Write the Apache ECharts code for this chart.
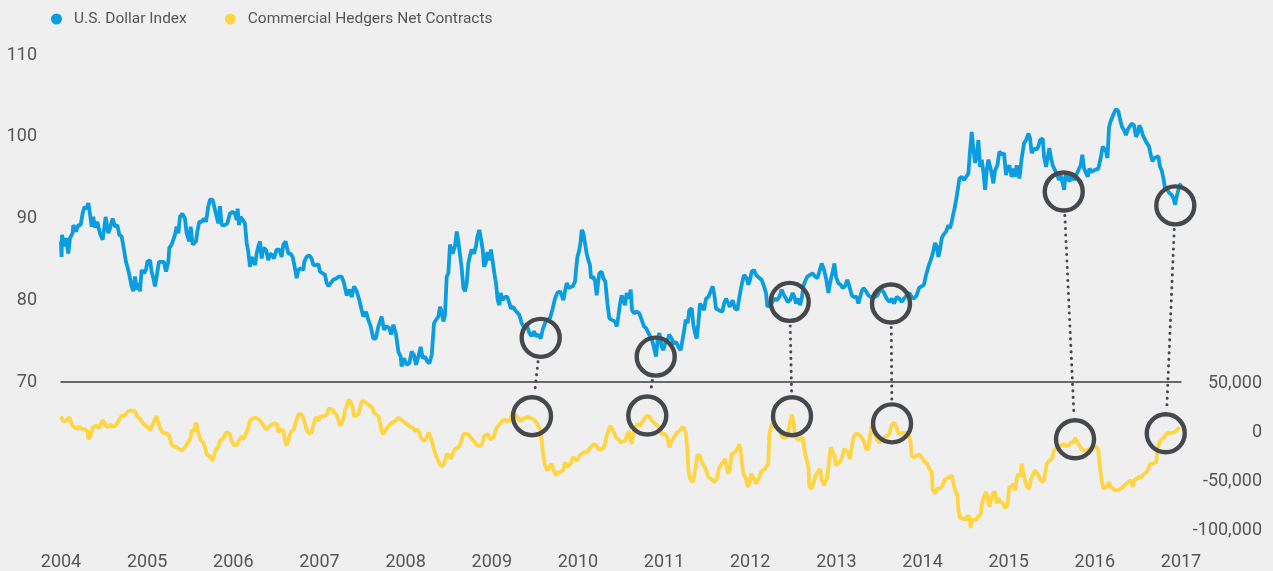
<!DOCTYPE html>
<html>
<head>
<meta charset="utf-8">
<title>U.S. Dollar Index vs Commercial Hedgers</title>
<script src="https://cdn.jsdelivr.net/npm/echarts@6/dist/echarts.min.js"></script>
<style>
  html, body { margin: 0; padding: 0; background: #efefef; }
  #chart { width: 1273px; height: 571px; }
</style>
</head>
<body>
<div id="chart"></div>
<script>
// data: [fractional year, value]
const dollarIndex = [
  [2004.000,87.2],[2004.006,85.3],[2004.012,88.0],[2004.035,86.6],[2004.058,87.6],[2004.085,85.7],[2004.104,87.6],[2004.135,88.2],
  [2004.143,89.2],[2004.174,88.4],[2004.201,89.2],[2004.228,89.2],[2004.251,90.6],[2004.271,91.4],[2004.298,91.2],[2004.317,91.9],
  [2004.336,90.6],[2004.356,89.0],[2004.375,90.2],[2004.394,88.9],[2004.421,89.6],[2004.452,88.2],[2004.483,87.4],[2004.499,88.6],
  [2004.518,90.2],[2004.549,88.2],[2004.569,88.8],[2004.599,90.0],[2004.627,89.0],[2004.654,89.2],[2004.677,88.0],[2004.704,87.8],
  [2004.731,86.2],[2004.754,84.7],[2004.781,83.7],[2004.801,83.5],[2004.820,81.7],[2004.839,81.1],[2004.859,82.9],[2004.878,81.3],
  [2004.897,82.1],[2004.917,81.1],[2004.936,83.7],[2004.963,83.3],[2004.986,83.7],[2005.002,84.7],[2005.033,84.9],[2005.052,83.5],
  [2005.072,82.7],[2005.091,81.7],[2005.110,82.9],[2005.137,84.7],[2005.168,84.7],[2005.195,84.7],[2005.219,83.5],[2005.246,84.7],
  [2005.257,86.4],[2005.284,86.8],[2005.304,86.8],[2005.323,88.0],[2005.342,89.0],[2005.362,88.2],[2005.381,90.2],[2005.408,90.6],
  [2005.439,90.0],[2005.458,88.2],[2005.489,87.2],[2005.505,89.0],[2005.528,86.8],[2005.544,86.6],[2005.567,87.2],[2005.582,88.4],
  [2005.605,89.6],[2005.632,89.6],[2005.659,90.0],[2005.683,89.6],[2005.710,91.5],[2005.729,92.3],[2005.760,92.3],[2005.776,92.1],
  [2005.807,90.2],[2005.826,89.4],[2005.845,91.5],[2005.865,89.2],[2005.903,89.2],[2005.930,89.4],[2005.961,90.6],[2005.992,90.8],
  [2006.019,90.6],[2006.039,89.8],[2006.050,91.2],[2006.066,89.2],[2006.085,90.2],[2006.108,90.0],[2006.135,89.4],[2006.155,87.0],
  [2006.174,85.9],[2006.194,84.1],[2006.213,85.3],[2006.232,85.5],[2006.252,84.3],[2006.271,85.7],[2006.290,86.6],[2006.310,87.2],
  [2006.329,85.1],[2006.348,86.4],[2006.379,86.2],[2006.406,84.9],[2006.426,85.7],[2006.453,85.5],[2006.472,85.1],[2006.503,86.2],
  [2006.534,86.2],[2006.561,85.3],[2006.581,86.8],[2006.608,87.2],[2006.619,86.6],[2006.639,85.7],[2006.666,85.7],[2006.689,85.3],
  [2006.716,83.9],[2006.735,82.7],[2006.755,83.7],[2006.782,83.9],[2006.813,83.7],[2006.824,84.7],[2006.851,85.3],[2006.882,85.5],
  [2006.909,85.1],[2006.929,84.3],[2006.960,84.3],[2006.987,84.4],[2007.006,83.5],[2007.037,83.3],[2007.064,83.1],[2007.084,82.1],
  [2007.107,81.7],[2007.130,82.1],[2007.161,82.5],[2007.200,82.7],[2007.227,82.9],[2007.258,82.9],[2007.285,82.1],[2007.316,80.6],
  [2007.347,81.3],[2007.374,80.4],[2007.401,81.7],[2007.432,81.1],[2007.463,80.0],[2007.490,78.8],[2007.509,78.0],[2007.540,78.6],
  [2007.567,77.6],[2007.595,76.8],[2007.625,75.3],[2007.653,75.3],[2007.684,76.8],[2007.722,78.0],[2007.749,76.4],[2007.780,76.8],
  [2007.811,76.6],[2007.831,75.8],[2007.858,77.0],[2007.889,75.8],[2007.916,73.7],[2007.943,73.1],[2007.954,71.9],[2007.981,72.9],
  [2008.012,72.1],[2008.043,72.3],[2008.070,73.7],[2008.098,73.3],[2008.121,72.1],[2008.148,73.1],[2008.175,74.3],[2008.198,72.9],
  [2008.225,73.1],[2008.252,72.5],[2008.276,72.3],[2008.303,73.3],[2008.330,77.2],[2008.353,77.6],[2008.380,78.0],[2008.399,79.2],
  [2008.419,78.6],[2008.438,77.4],[2008.457,78.2],[2008.477,82.9],[2008.496,83.3],[2008.515,86.8],[2008.546,85.7],[2008.573,86.6],
  [2008.593,88.4],[2008.612,87.2],[2008.631,87.4],[2008.651,83.9],[2008.670,81.5],[2008.689,81.1],[2008.709,82.1],[2008.728,84.5],
  [2008.748,85.5],[2008.767,86.2],[2008.794,85.7],[2008.817,86.6],[2008.833,87.8],[2008.856,88.6],[2008.871,88.8],[2008.895,86.2],
  [2008.910,84.1],[2008.929,84.5],[2008.949,85.9],[2008.972,84.9],[2008.991,86.2],[2009.011,84.7],[2009.030,83.3],[2009.049,82.1],
  [2009.069,80.0],[2009.088,79.4],[2009.104,80.9],[2009.127,80.0],[2009.154,80.4],[2009.181,80.4],[2009.204,80.2],[2009.223,79.0],
  [2009.251,79.2],[2009.270,78.8],[2009.289,78.6],[2009.320,78.2],[2009.347,77.2],[2009.374,76.7],[2009.405,77.0],[2009.436,76.0],
  [2009.463,75.6],[2009.490,76.2],[2009.514,75.6],[2009.541,75.8],[2009.568,75.3],[2009.591,76.4],[2009.618,77.2],[2009.645,77.6],
  [2009.676,77.8],[2009.707,79.0],[2009.734,80.2],[2009.761,80.9],[2009.792,81.1],[2009.812,80.6],[2009.831,80.0],[2009.854,81.3],
  [2009.870,82.1],[2009.893,81.5],[2009.916,81.3],[2009.939,81.7],[2009.967,82.3],[2009.978,83.7],[2009.994,85.3],[2010.017,86.2],
  [2010.032,87.2],[2010.044,88.6],[2010.063,88.2],[2010.082,87.0],[2010.102,85.7],[2010.121,84.9],[2010.140,84.3],[2010.152,82.7],
  [2010.179,82.9],[2010.199,82.3],[2010.218,80.6],[2010.233,82.1],[2010.249,83.3],[2010.276,83.5],[2010.295,82.7],[2010.318,82.3],
  [2010.342,79.6],[2010.365,77.8],[2010.392,77.6],[2010.411,77.8],[2010.431,77.4],[2010.450,76.8],[2010.469,78.0],[2010.489,79.6],
  [2010.508,80.6],[2010.527,80.0],[2010.547,79.4],[2010.566,80.9],[2010.593,80.2],[2010.613,81.3],[2010.628,78.8],[2010.651,78.4],
  [2010.682,78.6],[2010.713,78.4],[2010.740,77.6],[2010.767,76.8],[2010.791,76.6],[2010.818,76.0],[2010.837,75.6],[2010.856,75.3],
  [2010.876,74.5],[2010.907,73.1],[2010.926,75.3],[2010.945,76.0],[2010.972,74.3],[2010.992,73.9],[2011.011,74.7],[2011.038,75.1],
  [2011.061,75.8],[2011.088,75.3],[2011.108,74.7],[2011.139,74.9],[2011.166,74.3],[2011.193,73.9],[2011.216,74.1],[2011.235,76.4],
  [2011.251,77.6],[2011.274,77.2],[2011.293,78.8],[2011.321,79.0],[2011.340,77.0],[2011.359,76.0],[2011.379,75.3],[2011.398,77.2],
  [2011.417,79.6],[2011.437,79.8],[2011.464,78.8],[2011.487,80.2],[2011.514,80.4],[2011.541,81.1],[2011.564,81.7],[2011.584,80.6],
  [2011.603,79.0],[2011.630,78.8],[2011.649,79.0],[2011.677,78.6],[2011.696,79.6],[2011.719,80.2],[2011.746,79.6],[2011.765,79.2],
  [2011.796,80.0],[2011.824,79.0],[2011.851,78.8],[2011.874,80.4],[2011.901,81.9],[2011.928,83.1],[2011.959,82.7],[2011.978,81.9],
  [2011.998,82.5],[2012.017,83.5],[2012.044,83.7],[2012.067,83.1],[2012.083,83.3],[2012.106,82.7],[2012.133,82.5],[2012.160,81.7],
  [2012.183,80.9],[2012.199,79.2],[2012.222,79.0],[2012.249,79.6],[2012.276,80.2],[2012.307,80.0],[2012.338,80.4],[2012.365,81.3],
  [2012.392,80.6],[2012.416,80.2],[2012.435,79.8],[2012.462,80.0],[2012.493,80.9],[2012.512,80.4],[2012.532,79.6],[2012.559,80.2],
  [2012.578,79.4],[2012.598,80.2],[2012.617,81.7],[2012.636,82.3],[2012.663,82.9],[2012.694,83.1],[2012.725,83.3],[2012.752,82.9],
  [2012.779,82.7],[2012.802,82.9],[2012.830,84.5],[2012.857,83.7],[2012.880,82.7],[2012.907,80.9],[2012.926,82.1],[2012.957,83.5],
  [2012.977,84.5],[2012.996,82.9],[2013.023,82.1],[2013.050,81.9],[2013.073,81.5],[2013.100,81.7],[2013.127,82.5],[2013.151,81.7],
  [2013.178,80.6],[2013.205,80.4],[2013.236,80.4],[2013.255,79.6],[2013.275,79.4],[2013.294,81.1],[2013.313,81.5],[2013.344,81.1],
  [2013.371,80.6],[2013.399,80.4],[2013.422,80.6],[2013.449,80.4],[2013.476,80.6],[2013.499,81.1],[2013.526,81.3],[2013.553,80.9],
  [2013.584,80.2],[2013.615,79.8],[2013.642,80.2],[2013.669,79.6],[2013.700,80.4],[2013.731,80.2],[2013.758,79.8],[2013.785,80.2],
  [2013.816,80.6],[2013.847,80.9],[2013.874,80.4],[2013.901,80.2],[2013.932,80.6],[2013.959,81.5],[2013.990,81.7],[2014.017,81.9],
  [2014.041,83.1],[2014.068,84.1],[2014.095,84.9],[2014.118,85.7],[2014.145,87.0],[2014.165,86.6],[2014.184,85.3],[2014.203,86.2],
  [2014.223,87.6],[2014.242,88.0],[2014.273,88.4],[2014.300,89.2],[2014.319,88.8],[2014.339,89.6],[2014.358,90.6],[2014.377,91.5],
  [2014.397,92.7],[2014.416,92.9],[2014.428,94.9],[2014.455,95.1],[2014.482,94.7],[2014.505,94.5],[2014.532,95.5],[2014.551,98.2],
  [2014.571,100.6],[2014.590,98.6],[2014.609,96.8],[2014.629,97.6],[2014.648,99.6],[2014.668,96.3],[2014.687,97.2],[2014.706,95.7],
  [2014.726,93.5],[2014.745,95.9],[2014.764,97.2],[2014.784,97.0],[2014.803,95.5],[2014.822,94.3],[2014.842,95.9],[2014.869,96.5],
  [2014.892,98.2],[2014.919,97.8],[2014.946,98.0],[2014.969,95.3],[2014.985,96.1],[2015.008,96.5],[2015.035,95.1],[2015.054,96.1],
  [2015.074,95.1],[2015.093,96.5],[2015.124,94.9],[2015.151,97.4],[2015.178,99.2],[2015.202,99.6],[2015.229,100.4],[2015.248,99.8],
  [2015.267,98.0],[2015.294,98.6],[2015.318,98.4],[2015.345,98.8],[2015.364,99.6],[2015.395,99.8],[2015.410,97.6],[2015.434,96.3],
  [2015.449,96.3],[2015.472,98.6],[2015.488,97.6],[2015.511,96.5],[2015.538,95.9],[2015.557,95.5],[2015.585,94.7],[2015.604,95.3],
  [2015.627,94.3],[2015.643,93.5],[2015.658,95.1],[2015.674,95.7],[2015.705,94.5],[2015.732,95.3],[2015.759,94.7],[2015.782,94.9],
  [2015.809,95.9],[2015.836,96.5],[2015.855,97.8],[2015.875,96.1],[2015.898,95.9],[2015.917,95.1],[2015.937,96.1],[2015.964,95.7],
  [2015.991,95.9],[2016.014,95.7],[2016.041,96.1],[2016.068,97.4],[2016.091,98.8],[2016.107,99.0],[2016.130,98.2],[2016.146,97.4],
  [2016.165,101.2],[2016.184,101.9],[2016.207,102.1],[2016.223,102.9],[2016.246,103.4],[2016.273,103.1],[2016.293,102.1],[2016.316,101.2],
  [2016.339,100.8],[2016.362,100.2],[2016.378,100.8],[2016.401,101.2],[2016.428,101.6],[2016.455,101.4],[2016.478,100.0],[2016.498,100.4],
  [2016.517,101.4],[2016.536,101.0],[2016.556,100.2],[2016.575,100.4],[2016.594,99.4],[2016.610,99.6],[2016.629,98.8],[2016.649,97.8],
  [2016.668,97.0],[2016.691,97.4],[2016.710,97.4],[2016.738,97.6],[2016.757,96.3],[2016.776,95.9],[2016.796,94.9],[2016.815,93.7],
  [2016.842,93.5],[2016.865,93.1],[2016.892,92.9],[2016.912,92.5],[2016.931,91.7],[2016.950,92.7],[2016.970,93.5],[2016.989,94.1],
  [2017.000,94.3]
];

const hedgersNet = [
  [2004.000,16100],[2004.004,14500],[2004.019,11800],[2004.046,10400],[2004.073,12800],[2004.096,15100],[2004.112,11100],[2004.135,6100],
  [2004.162,4400],[2004.189,3400],[2004.213,5400],[2004.228,7100],[2004.251,2700],[2004.278,2700],[2004.305,1000],[2004.317,-7400],
  [2004.344,-4000],[2004.367,4400],[2004.394,6100],[2004.421,6100],[2004.445,3700],[2004.460,7700],[2004.483,11800],[2004.503,9400],
  [2004.522,6100],[2004.549,5100],[2004.576,7700],[2004.599,5400],[2004.627,6100],[2004.646,8400],[2004.677,12800],[2004.704,16800],
  [2004.731,16100],[2004.754,18500],[2004.781,21200],[2004.808,21800],[2004.839,21800],[2004.863,20500],[2004.886,16100],[2004.909,17100],
  [2004.936,11100],[2004.963,7700],[2004.986,6100],[2005.013,4400],[2005.033,2000],[2005.052,5100],[2005.072,9400],[2005.091,12800],
  [2005.110,16100],[2005.129,9400],[2005.157,2700],[2005.180,-600],[2005.207,-1600],[2005.234,-1600],[2005.257,-4000],[2005.277,-10700],
  [2005.296,-14100],[2005.323,-15100],[2005.350,-15700],[2005.373,-16800],[2005.400,-19100],[2005.427,-16800],[2005.451,-14100],[2005.470,-12400],
  [2005.489,-8400],[2005.505,-5700],[2005.516,1700],[2005.544,1000],[2005.567,9400],[2005.582,4400],[2005.605,-5000],[2005.625,-8400],
  [2005.652,-10700],[2005.671,-15700],[2005.690,-22500],[2005.718,-24100],[2005.737,-26500],[2005.760,-29200],[2005.776,-24100],[2005.799,-17400],
  [2005.826,-15700],[2005.845,-8400],[2005.876,-7400],[2005.896,-4000],[2005.923,0],[2005.946,1000],[2005.961,-2300],[2005.981,-9000],
  [2006.008,-13400],[2006.039,-13400],[2006.058,-14100],[2006.077,-7400],[2006.097,-4000],[2006.116,-7400],[2006.135,-4000],[2006.155,-2300],
  [2006.174,4400],[2006.194,11800],[2006.225,13500],[2006.252,14500],[2006.271,15500],[2006.298,12800],[2006.321,11100],[2006.341,7700],
  [2006.356,9400],[2006.379,2700],[2006.406,4400],[2006.433,7100],[2006.457,8400],[2006.484,8800],[2006.511,7700],[2006.523,-600],
  [2006.542,2700],[2006.561,4400],[2006.581,1000],[2006.600,-8400],[2006.619,-14100],[2006.639,-15700],[2006.658,-2300],[2006.677,1000],
  [2006.704,2700],[2006.728,11100],[2006.755,17800],[2006.782,18500],[2006.805,16100],[2006.824,11100],[2006.844,4400],[2006.859,1000],
  [2006.882,-1600],[2006.909,-600],[2006.929,1000],[2006.948,12800],[2006.967,15100],[2006.990,11100],[2007.014,16100],[2007.037,14500],
  [2007.064,16100],[2007.091,18500],[2007.107,23900],[2007.130,25200],[2007.153,22900],[2007.169,19500],[2007.200,17800],[2007.219,16100],
  [2007.239,6100],[2007.258,6100],[2007.277,12800],[2007.297,22900],[2007.316,26200],[2007.335,32900],[2007.362,31200],[2007.386,24500],
  [2007.401,16100],[2007.424,14500],[2007.451,17800],[2007.471,24500],[2007.490,31200],[2007.517,31200],[2007.540,29600],[2007.567,27900],
  [2007.595,26200],[2007.618,23900],[2007.633,19500],[2007.656,17800],[2007.684,16100],[2007.703,9400],[2007.722,1000],[2007.742,-2300],
  [2007.761,1000],[2007.788,4400],[2007.811,6100],[2007.838,9400],[2007.858,7700],[2007.877,11100],[2007.896,12800],[2007.916,14500],
  [2007.935,12800],[2007.966,11100],[2007.993,9400],[2008.012,7700],[2008.039,6100],[2008.059,7700],[2008.082,4400],[2008.109,1000],
  [2008.136,2700],[2008.159,-600],[2008.175,-5700],[2008.206,-9000],[2008.233,-7400],[2008.252,-4000],[2008.264,-600],[2008.291,-5700],
  [2008.314,-12400],[2008.334,-19100],[2008.353,-24100],[2008.380,-29800],[2008.407,-34200],[2008.438,-34200],[2008.457,-29200],[2008.477,-22500],
  [2008.504,-24100],[2008.523,-27500],[2008.546,-22500],[2008.570,-17400],[2008.593,-19100],[2008.616,-15700],[2008.639,-14100],[2008.655,-7400],
  [2008.670,-2300],[2008.701,-1600],[2008.728,-2300],[2008.755,-5700],[2008.778,-7400],[2008.806,-10700],[2008.825,-13400],[2008.848,-13400],
  [2008.871,-14100],[2008.895,-10700],[2008.910,-4000],[2008.933,-4000],[2008.960,-2300],[2008.980,-7400],[2008.999,-9000],[2009.018,-5700],
  [2009.038,-600],[2009.057,4400],[2009.080,6100],[2009.104,9400],[2009.127,11800],[2009.154,12800],[2009.181,11100],[2009.212,11100],
  [2009.243,19500],[2009.289,16100],[2009.328,11100],[2009.359,12800],[2009.386,14500],[2009.413,15100],[2009.444,14500],[2009.463,16100],
  [2009.490,12800],[2009.521,9400],[2009.541,7700],[2009.568,1000],[2009.583,-12400],[2009.599,-24100],[2009.618,-34200],[2009.645,-39200],
  [2009.668,-39200],[2009.692,-32500],[2009.707,-35900],[2009.726,-40900],[2009.746,-44300],[2009.773,-40900],[2009.800,-40900],[2009.831,-39200],
  [2009.850,-30800],[2009.870,-35900],[2009.893,-37600],[2009.916,-32500],[2009.939,-25800],[2009.967,-27500],[2009.994,-29200],[2010.017,-24100],
  [2010.044,-22500],[2010.071,-20800],[2010.102,-20800],[2010.133,-17400],[2010.160,-14100],[2010.187,-12400],[2010.218,-14100],[2010.237,-17400],
  [2010.257,-19100],[2010.288,-17400],[2010.315,-12400],[2010.334,-4000],[2010.357,2700],[2010.381,6100],[2010.404,4400],[2010.419,-600],
  [2010.442,-5700],[2010.469,-7400],[2010.497,-10700],[2010.520,-12400],[2010.547,-9000],[2010.574,-2300],[2010.593,1000],[2010.624,-12400],
  [2010.643,-2300],[2010.663,4400],[2010.690,8400],[2010.713,6100],[2010.740,9400],[2010.767,12800],[2010.791,16100],[2010.806,17800],
  [2010.829,16100],[2010.856,11800],[2010.883,9400],[2010.914,7100],[2010.945,4400],[2010.972,-2300],[2010.992,-4000],[2011.011,-2300],
  [2011.038,-5700],[2011.061,-15700],[2011.077,-10700],[2011.100,-7400],[2011.127,-4000],[2011.146,-600],[2011.177,1000],[2011.205,4400],
  [2011.232,4400],[2011.255,-2300],[2011.270,-19100],[2011.282,-39200],[2011.301,-47600],[2011.332,-51000],[2011.348,-45900],[2011.371,-32500],
  [2011.386,-24100],[2011.410,-23100],[2011.425,-27500],[2011.448,-32500],[2011.475,-35900],[2011.495,-40900],[2011.514,-45900],[2011.533,-47600],
  [2011.564,-49300],[2011.591,-51000],[2011.619,-45900],[2011.634,-37600],[2011.657,-34200],[2011.680,-32500],[2011.707,-27500],[2011.727,-35900],
  [2011.746,-42600],[2011.765,-37600],[2011.785,-22500],[2011.804,-22500],[2011.823,-20800],[2011.850,-17400],[2011.874,-12400],[2011.889,-19100],
  [2011.901,-29200],[2011.920,-42600],[2011.951,-47600],[2011.970,-56000],[2011.990,-52700],[2012.009,-42600],[2012.029,-40900],[2012.044,-47600],
  [2012.067,-52700],[2012.083,-51000],[2012.106,-45900],[2012.125,-40900],[2012.145,-40900],[2012.172,-37600],[2012.191,-35900],[2012.210,-32500],
  [2012.222,-2300],[2012.249,7700],[2012.276,9400],[2012.307,6100],[2012.338,2700],[2012.365,-4000],[2012.392,-5700],[2012.423,-5700],
  [2012.443,1000],[2012.462,9400],[2012.481,17800],[2012.501,11100],[2012.520,-4000],[2012.547,-7400],[2012.578,-7400],[2012.609,-5700],
  [2012.624,-15700],[2012.648,-25800],[2012.675,-35900],[2012.686,-56000],[2012.713,-57700],[2012.733,-52700],[2012.752,-45900],[2012.771,-42600],
  [2012.791,-44300],[2012.810,-37600],[2012.830,-49300],[2012.857,-54300],[2012.880,-56000],[2012.895,-45900],[2012.918,-27500],[2012.934,-15700],
  [2012.957,-15700],[2012.977,-24100],[2012.996,-34200],[2013.011,-32500],[2013.035,-30800],[2013.062,-27500],[2013.089,-17400],[2013.112,-15700],
  [2013.135,-20800],[2013.158,-27500],[2013.178,-15700],[2013.197,-5700],[2013.228,-1600],[2013.255,-2300],[2013.282,-4000],[2013.305,-4000],
  [2013.325,-10700],[2013.344,-17400],[2013.371,-17400],[2013.391,-4000],[2013.410,6100],[2013.437,-600],[2013.468,-7400],[2013.499,-10700],
  [2013.526,-9000],[2013.553,-5700],[2013.584,-4000],[2013.615,-2300],[2013.642,7700],[2013.669,9400],[2013.692,6100],[2013.719,-600],
  [2013.746,-2300],[2013.777,-600],[2013.808,-600],[2013.839,-2300],[2013.862,-10700],[2013.874,-24100],[2013.901,-25800],[2013.932,-24100],
  [2013.959,-22500],[2013.979,-22500],[2014.002,-27500],[2014.029,-30800],[2014.056,-32500],[2014.079,-37600],[2014.107,-40900],[2014.118,-59400],
  [2014.145,-62700],[2014.172,-57700],[2014.203,-57700],[2014.234,-54300],[2014.254,-49300],[2014.281,-47600],[2014.312,-45900],[2014.339,-44300],
  [2014.358,-43300],[2014.377,-59400],[2014.404,-64400],[2014.416,-79500],[2014.435,-87900],[2014.466,-87900],[2014.493,-89600],[2014.520,-86200],
  [2014.544,-86200],[2014.559,-98000],[2014.575,-89600],[2014.598,-87900],[2014.621,-89600],[2014.648,-86200],[2014.675,-84500],[2014.691,-72800],
  [2014.714,-66100],[2014.737,-61100],[2014.757,-67800],[2014.776,-76200],[2014.795,-69400],[2014.815,-62700],[2014.842,-61100],[2014.861,-72800],
  [2014.880,-67800],[2014.907,-71100],[2014.931,-72800],[2014.958,-77800],[2014.985,-74500],[2015.008,-56000],[2015.035,-56000],[2015.054,-52700],
  [2015.074,-59400],[2015.093,-47600],[2015.112,-42600],[2015.132,-45900],[2015.151,-32500],[2015.171,-42600],[2015.190,-49300],[2015.209,-56000],
  [2015.240,-57700],[2015.256,-49300],[2015.279,-44300],[2015.306,-39200],[2015.325,-40900],[2015.345,-44300],[2015.372,-49300],[2015.403,-51000],
  [2015.422,-42600],[2015.441,-32500],[2015.472,-29200],[2015.499,-27500],[2015.526,-19100],[2015.550,-17400],[2015.577,-15700],[2015.604,-14100],
  [2015.635,-12400],[2015.666,-14100],[2015.693,-14100],[2015.720,-10700],[2015.751,-10700],[2015.770,-5700],[2015.790,-9000],[2015.821,-14100],
  [2015.848,-17400],[2015.875,-19100],[2015.906,-19100],[2015.937,-17400],[2015.964,-17400],[2015.991,-15100],[2016.022,-15100],[2016.041,-19100],
  [2016.060,-37600],[2016.080,-49300],[2016.099,-57700],[2016.119,-59400],[2016.138,-56000],[2016.165,-51000],[2016.184,-56000],[2016.207,-57700],
  [2016.235,-59400],[2016.254,-58700],[2016.273,-59400],[2016.300,-57700],[2016.331,-56000],[2016.362,-52700],[2016.389,-51000],[2016.416,-49300],
  [2016.440,-56000],[2016.455,-49300],[2016.486,-47600],[2016.517,-45900],[2016.544,-45900],[2016.571,-42600],[2016.602,-40900],[2016.622,-37600],
  [2016.641,-32500],[2016.672,-32500],[2016.711,-30800],[2016.726,-19100],[2016.749,-10700],[2016.776,-7400],[2016.803,-5700],[2016.827,-2300],
  [2016.854,-600],[2016.881,-1600],[2016.912,-600],[2016.943,1000],[2016.970,3400],[2016.989,4400]
];

// highlighted spots, paired by index (dollar circle -> hedgers circle)
const dollarCircles = [[2009.568,75.4],[2010.903,73.1],[2012.458,79.8],[2013.634,79.6],[2015.639,93.3],[2016.934,91.6]];
const hedgerCircles = [[2009.467,16100],[2010.805,16800],[2012.485,16100],[2013.646,8800],[2015.770,-7400],[2016.823,-1300]];

const yearTicks = [2004, 2017];
const BLUE = "#0a9ddf";
const YELLOW = "#ffd544";
const RING = "#45484d";
const TEXT = "#555555";
const FONT = "Roboto, 'Liberation Sans', sans-serif";

const chart = echarts.init(document.getElementById("chart"), null, { renderer: "canvas" });

const ring = {
  type: "scatter",
  symbol: "circle",
  symbolSize: 38,
  silent: true,
  z: 5,
  itemStyle: { color: "rgba(0,0,0,0)", borderColor: RING, borderWidth: 4.4, opacity: 1 },
};

chart.setOption({
  backgroundColor: "#efefef",
  animation: false,
  legend: {
    data: ["U.S. Dollar Index", "Commercial Hedgers Net Contracts"],
    left: 46,
    top: 6,
    icon: "circle",
    itemWidth: 11,
    itemHeight: 11,
    itemGap: 38,
    textStyle: { color: TEXT, fontSize: 15.5, fontFamily: FONT, padding: [0, 0, 0, 7] },
  },
  grid: [
    { left: 61, right: 92, top: 55, height: 327 },
    { left: 61, right: 92, top: 383, height: 149 },
  ],
  xAxis: [
    {
      gridIndex: 0, type: "value", min: yearTicks[0], max: yearTicks[1], interval: 1,
      axisLine: { show: true, onZero: false, lineStyle: { color: "#3c3c3c", width: 1.5 } },
      axisTick: { show: false }, axisLabel: { show: false }, splitLine: { show: false },
    },
    {
      gridIndex: 1, type: "value", min: yearTicks[0], max: yearTicks[1], interval: 1,
      axisLine: { show: false }, axisTick: { show: false }, splitLine: { show: false },
      axisLabel: { color: TEXT, fontSize: 18, fontFamily: FONT, margin: 23, formatter: (v) => String(v) },
    },
  ],
  yAxis: [
    {
      gridIndex: 0, type: "value", min: 70, max: 110, interval: 10, position: "left",
      axisLine: { show: false }, axisTick: { show: false }, splitLine: { show: false },
      axisLabel: { color: TEXT, fontSize: 18, fontFamily: FONT, margin: 24 },
    },
    {
      gridIndex: 1, type: "value", min: -100000, max: 50000, interval: 50000, position: "right",
      axisLine: { show: false }, axisTick: { show: false }, splitLine: { show: false },
      axisLabel: {
        color: TEXT, fontSize: 18, fontFamily: FONT, margin: 81, align: "right",
        formatter: (v) => v.toLocaleString("en-US"),
      },
    },
  ],
  series: [
    {
      name: "U.S. Dollar Index", type: "line", xAxisIndex: 0, yAxisIndex: 0,
      data: dollarIndex, showSymbol: false, color: BLUE,
      lineStyle: { color: BLUE, width: 3.8 }, z: 3,
    },
    {
      name: "Commercial Hedgers Net Contracts", type: "line", xAxisIndex: 1, yAxisIndex: 1,
      data: hedgersNet, showSymbol: false, color: YELLOW,
      lineStyle: { color: YELLOW, width: 3.8 }, z: 2,
    },
    { ...ring, name: "dollarRings", xAxisIndex: 0, yAxisIndex: 0, data: dollarCircles },
    { ...ring, name: "hedgerRings", xAxisIndex: 1, yAxisIndex: 1, data: hedgerCircles },
  ],
});

// dotted connectors between paired rings, placed through the axes
function drawConnectors() {
  const gap = 24;
  const lines = dollarCircles.map((d, i) => {
    const a = chart.convertToPixel({ gridIndex: 0 }, d);
    const b = chart.convertToPixel({ gridIndex: 1 }, hedgerCircles[i]);
    const dx = b[0] - a[0], dy = b[1] - a[1];
    const len = Math.hypot(dx, dy);
    const ux = dx / len, uy = dy / len;
    return {
      type: "line",
      silent: true,
      z: 10,
      shape: { x1: a[0] + ux * gap, y1: a[1] + uy * gap, x2: b[0] - ux * gap, y2: b[1] - uy * gap },
      style: { stroke: RING, lineWidth: 3, lineDash: [0.1, 6.4], lineCap: "round" },
    };
  });
  chart.setOption({ graphic: lines });
}
drawConnectors();
</script>
</body>
</html>
